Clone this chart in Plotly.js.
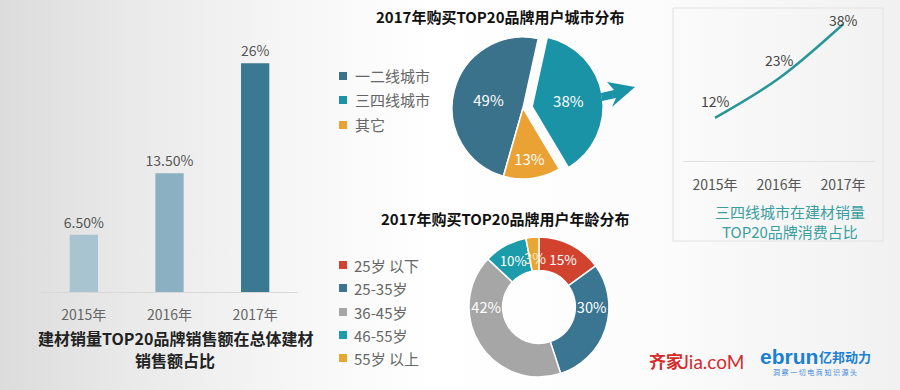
<!DOCTYPE html>
<html><head><meta charset="utf-8">
<script src="https://cdn.plot.ly/plotly-3.0.1.min.js"></script>
<style>
html,body{margin:0;padding:0;width:900px;height:390px;overflow:hidden;}
body{background:linear-gradient(to right,#dcdcdc 0%,#e9e9e9 14%,#f6f6f6 32%,#ffffff 48%,#fcfcfc 72%,#f1f1f1 100%);}
#chart{width:900px;height:390px;}
</style></head><body><div id="chart"></div>
<script>
// ---- data ----
const years = ['2015年', '2016年', '2017年'];
const salesShare = [6.5, 13.5, 26];
const salesShareLabels = ['6.50%', '13.50%', '26%'];
const cityTiers = ['一二线城市', '三四线城市', '其它'];
const cityShare = [49, 38, 13];
const ageGroups = ['25岁 以下', '25-35岁', '36-45岁', '46-55岁', '55岁 以上'];
const ageShare = [15, 30, 42, 10, 3];
const tier34Share = [12, 23, 38];

// ---- layout helpers ----
const W = 900, H = 390;
const px = x => x / W, py = y => 1 - y / H;
const FONT = '"Noto Sans CJK SC", "Noto Sans", sans-serif';
const barColors = ['#a8c4d0', '#8ab0c1', '#3b7891'];
const cityColors = ['#3a728c', '#1b93a6', '#e9a233'];
const ageColors = ['#d2432f', '#3a7591', '#a6a6a6', '#1c9bab', '#e8a632'];
const teal = '#2a9596';

// the smallest donut slice gets its label as an overflowing annotation (as in the reference)
const ageTemplates = ageShare.map((v, i) => i === ageShare.length - 1 ? '' : '%{value}%');

const traces = [
  {type: 'bar', x: years, y: salesShare, text: salesShareLabels, textposition: 'outside', cliponaxis: false,
   constraintext: 'none',
   marker: {color: barColors}, width: 0.33, textfont: {size: 14, color: '#555', family: FONT},
   xaxis: 'x', yaxis: 'y', showlegend: false},
  {type: 'pie', labels: cityTiers, values: cityShare, sort: false, direction: 'clockwise', rotation: 196,
   pull: [0, 0.13, 0], marker: {colors: cityColors, line: {color: '#ffffff', width: 1.5}},
   texttemplate: '%{value}%', textposition: 'inside', insidetextorientation: 'horizontal',
   textfont: {size: 15, color: '#ffffff', family: FONT},
   domain: {x: [px(442.75), px(603.25)], y: [py(188.25), py(27.75)]}, showlegend: false},
  {type: 'pie', labels: ageGroups, values: ageShare, sort: false, direction: 'clockwise', rotation: 0, hole: 0.52,
   marker: {colors: ageColors, line: {color: '#ffffff', width: 1.5}},
   texttemplate: ageTemplates, textposition: 'inside', insidetextorientation: 'horizontal',
   textfont: {size: 15, color: '#ffffff', family: FONT},
   domain: {x: [px(468.5), px(609.5)], y: [py(377), py(237)]}, showlegend: false},
  {type: 'scatter', x: years, y: tier34Share, mode: 'lines', cliponaxis: false,
   line: {shape: 'spline', color: teal, width: 2.5}, xaxis: 'x2', yaxis: 'y2', showlegend: false}
];

const annotations = [];
const shapes = [];
function txt(x, y, text, opts) {
  annotations.push(Object.assign({xref: 'paper', yref: 'paper', x: px(x), y: py(y), text: text, showarrow: false,
    xanchor: 'center', yanchor: 'middle', font: {family: FONT, size: 14, color: '#555'}}, opts || {}));
}

// titles
txt(500, 17, '<b>2017年购买TOP20品牌用户城市分布</b>', {font: {family: FONT, size: 15, color: '#111'}});
txt(505, 218, '<b>2017年购买TOP20品牌用户年龄分布</b>', {font: {family: FONT, size: 15, color: '#111'}});
txt(175, 338, '<b>建材销量TOP20品牌销售额在总体建材</b>', {font: {family: FONT, size: 16, color: '#222'}});
txt(175, 360, '<b>销售额占比</b>', {font: {family: FONT, size: 16, color: '#222'}});
txt(790, 212, '三四线城市在建材销量', {font: {family: FONT, size: 15, color: '#3a9ea0'}});
txt(790, 231, 'TOP20品牌消费占比', {font: {family: FONT, size: 15, color: '#3a9ea0'}});

// small donut slice label
txt(535, 257, ageShare[ageShare.length - 1] + '%', {font: {family: FONT, size: 15, color: '#fbead0'}});

// legends (squares + labels)
const leg1Y = [76, 100, 125];
cityTiers.forEach((c, i) => {
  shapes.push({type: 'rect', xref: 'paper', yref: 'paper', x0: px(339), x1: px(347), y0: py(leg1Y[i] + 4), y1: py(leg1Y[i] - 4),
    fillcolor: cityColors[i], line: {width: 0}});
  txt(353, leg1Y[i], c, {xanchor: 'left', font: {family: FONT, size: 15, color: '#666'}});
});
const leg2Y = [265, 288, 312, 335, 358];
ageGroups.forEach((c, i) => {
  shapes.push({type: 'rect', xref: 'paper', yref: 'paper', x0: px(339), x1: px(347), y0: py(leg2Y[i] + 4), y1: py(leg2Y[i] - 4),
    fillcolor: ageColors[i], line: {width: 0}});
  txt(352, leg2Y[i], c, {xanchor: 'left', font: {family: FONT, size: 15, color: '#666'}});
});

// line chart labels
const lineLabelShift = [17, 18, 4];
tier34Share.forEach((v, i) => {
  annotations.push({xref: 'x2', yref: 'y2', x: years[i], y: v, text: v + '%', showarrow: false, yshift: lineLabelShift[i],
    font: {family: FONT, size: 14, color: '#444'}});
});

// box around line chart
shapes.push({type: 'rect', xref: 'paper', yref: 'paper', x0: px(673), x1: px(883), y0: py(241), y1: py(8),
  line: {color: '#e2e2e2', width: 1}, fillcolor: 'rgba(0,0,0,0)'});

// arrow
const arrowPts = [[601, 93], [614, 90], [607, 82], [635, 87], [612, 107], [616, 98], [602, 101]];
shapes.push({type: 'path', xref: 'paper', yref: 'paper',
  path: 'M' + arrowPts.map(p => px(p[0]) + ',' + py(p[1])).join('L') + 'Z',
  fillcolor: '#1b93a6', line: {width: 0}});

// logos
txt(647, 360, '<b>齐家</b>', {xanchor: 'left', font: {family: FONT, size: 17, color: '#d42a2a'}});
txt(679, 361, 'Jia.coM', {xanchor: 'left', font: {family: '"Lato", "DejaVu Sans", sans-serif', size: 19, color: '#d42a2a'}});
txt(758, 356, '<b>ebrun</b>', {xanchor: 'left', font: {family: '"Liberation Sans", Arial, sans-serif', size: 21, color: '#1b80d2'}});
txt(817, 356, '<b>亿邦动力</b>', {xanchor: 'left', font: {family: FONT, size: 13, color: '#1b80d2'}});
txt(815, 372, '洞 察 一 切 电 商 知 识 源 头', {font: {family: FONT, size: 7, color: '#3a8ad8'}});

const layout = {
  width: W, height: H, margin: {l: 0, r: 0, t: 0, b: 0},
  paper_bgcolor: 'rgba(0,0,0,0)', plot_bgcolor: 'rgba(0,0,0,0)',
  font: {family: FONT},
  showlegend: false,
  xaxis: {domain: [px(41), px(298)], range: [-0.5, 2.5], type: 'category', anchor: 'y', showline: true,
    linecolor: '#d8d8d8', linewidth: 1, ticks: '', showgrid: false, zeroline: false, ticklabelstandoff: 10,
    tickfont: {family: FONT, size: 14, color: '#666'}},
  yaxis: {domain: [py(292), py(28)], range: [0, 30], visible: false, anchor: 'x'},
  xaxis2: {domain: [px(683), px(875)], range: [-0.5, 2.5], type: 'category', anchor: 'y2', showline: true,
    linecolor: '#e2e2e2', linewidth: 1, ticks: '', showgrid: false, zeroline: false, ticklabelstandoff: 11,
    tickfont: {family: FONT, size: 14, color: '#555'}},
  yaxis2: {domain: [py(161), py(17)], range: [0, 40], visible: false, anchor: 'x2'},
  annotations: annotations,
  shapes: shapes
};

Plotly.newPlot('chart', traces, layout, {displayModeBar: false, staticPlot: true});
</script>
</body></html>
